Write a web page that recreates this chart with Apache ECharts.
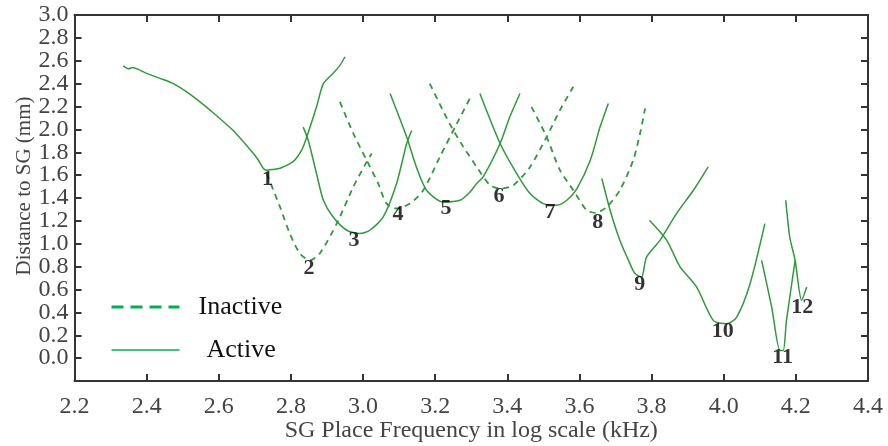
<!DOCTYPE html>
<html><head><meta charset="utf-8">
<script src="https://cdn.jsdelivr.net/npm/echarts@6/dist/echarts.min.js"></script>
<style>html,body{margin:0;padding:0;background:#fff}#c{width:888px;height:446px}</style>
</head><body><div id="c"></div>
<script>
// Tick labels
const xTicks = [2.2,2.4,2.6,2.8,3.0,3.2,3.4,3.6,3.8,4.0,4.2,4.4];
const yTicks = [0.0,0.2,0.4,0.6,0.8,1.0,1.2,1.4,1.6,1.8,2.0,2.2,2.4,2.6,2.8];
const yTopTick = [3.0];

// Active (solid) segments [frequency, distance]
const active1 = [[2.335,2.556],[2.35,2.53],[2.36,2.54],[2.40,2.49],[2.437,2.446],[2.474,2.40],[2.51,2.33],[2.548,2.24],[2.59,2.13],[2.64,1.99],[2.696,1.79],[2.71,1.73],[2.723,1.66],[2.733,1.643],[2.75,1.65],[2.77,1.66],[2.807,1.72],[2.83,1.82],[2.844,1.934],[2.871,2.197],[2.89,2.40],[2.917,2.49],[2.936,2.56],[2.95,2.635]];
const active2 = [[2.834,2.02],[2.848,1.905],[2.871,1.614],[2.89,1.38],[2.917,1.234],[2.955,1.118],[2.991,1.089],[3.019,1.118],[3.056,1.234],[3.093,1.527],[3.121,1.877],[3.135,1.99]];
const active3 = [[3.075,2.314],[3.121,1.934],[3.148,1.67],[3.176,1.468],[3.222,1.365],[3.269,1.38],[3.296,1.45],[3.315,1.527],[3.333,1.585],[3.38,1.877],[3.407,2.11],[3.435,2.314]];
const active4 = [[3.324,2.314],[3.38,1.877],[3.426,1.614],[3.463,1.439],[3.50,1.351],[3.537,1.337],[3.565,1.38],[3.593,1.483],[3.63,1.73],[3.657,2.02],[3.68,2.227]];
const active5 = [[3.662,1.57],[3.685,1.293],[3.712,1.03],[3.74,0.826],[3.754,0.739],[3.772,0.709],[3.786,0.884],[3.823,1.03],[3.869,1.264],[3.916,1.468],[3.957,1.672]];
const active6 = [[3.794,1.205],[3.842,1.03],[3.879,0.797],[3.925,0.621],[3.971,0.33],[4.008,0.301],[4.036,0.359],[4.073,0.651],[4.114,1.176]];
const active7 = [[4.105,0.855],[4.133,0.446],[4.156,0.067],[4.165,0.067],[4.174,0.33],[4.198,0.855]];
const active8 = [[4.172,1.38],[4.183,1.059],[4.198,0.855],[4.216,0.505],[4.23,0.621]];

// Inactive (dashed) segments
const inactive1 = [[2.733,1.614],[2.77,1.32],[2.797,1.089],[2.825,0.914],[2.853,0.855],[2.88,0.914],[2.927,1.176],[2.973,1.497],[3.01,1.716],[3.024,1.789]];
const inactive2 = [[2.936,2.24],[2.973,1.964],[3.01,1.73],[3.042,1.527],[3.065,1.351],[3.093,1.308],[3.13,1.351],[3.167,1.468],[3.213,1.76],[3.26,2.05],[3.296,2.27]];
const inactive3 = [[3.185,2.40],[3.24,2.05],[3.278,1.847],[3.315,1.672],[3.352,1.512],[3.38,1.483],[3.417,1.512],[3.463,1.672],[3.509,1.934],[3.546,2.168],[3.583,2.372]];
const inactive4 = [[3.467,2.197],[3.509,1.934],[3.546,1.643],[3.583,1.468],[3.62,1.293],[3.645,1.27],[3.676,1.322],[3.712,1.468],[3.749,1.73],[3.768,1.964],[3.782,2.183]];

// Notch numbers [frequency, distance, label]
const notchLabels = [[2.735,1.56,'1'],[2.85,0.785,'2'],[2.975,1.03,'3'],[3.097,1.256,'4'],[3.23,1.31,'5'],[3.377,1.415,'6'],[3.518,1.275,'7'],[3.651,1.187,'8'],[3.767,0.644,'9'],[3.997,0.233,'10'],[4.163,0.006,'11'],[4.218,0.444,'12']];

const GREEN = '#2f9a3a';
const FONT = '"Liberation Serif", "Times New Roman", serif';
const activeSegs = [active1,active2,active3,active4,active5,active6,active7,active8];
const inactiveSegs = [inactive1,inactive2,inactive3,inactive4];

const series = [];
inactiveSegs.forEach(d => series.push({type:'line', name:'Inactive', data:d, symbol:'none', smooth:0.25,
  lineStyle:{color:GREEN, width:1.8, type:[6,5]}, itemStyle:{color:GREEN}, z:2}));
activeSegs.forEach(d => series.push({type:'line', name:'Active', data:d, symbol:'none', smooth:0.25,
  lineStyle:{color:GREEN, width:1.5}, itemStyle:{color:GREEN}, z:3}));
series.push({type:'scatter', name:'labels', data:notchLabels, symbolSize:1, itemStyle:{color:'rgba(0,0,0,0)'},
  label:{show:true, position:'inside', formatter:p=>p.value[2], fontFamily:FONT, fontWeight:'bold', fontSize:22, color:'#000'}, z:5});

const axisLineStyle = {color:'#333', width:2};
const tickFmt = (arr) => v => {const t=arr.find(a=>Math.abs(a-v)<1e-6);return t===undefined?'':t.toFixed(1);};
const labelBase = {fontFamily:FONT, fontSize:24, color:'#444', hideOverlap:false};
const chart = echarts.init(document.getElementById('c'), null, {renderer:'canvas'});
chart.setOption({
  animation:false,
  backgroundColor:'#fff',
  grid:{left:74.5, right:20, top:15, bottom:65, containLabel:false, outerBoundsMode:'none'},
  legend:{
    orient:'vertical', left:105, top:289, itemGap:17, itemWidth:68, itemHeight:14,
    textStyle:{fontFamily:FONT, fontSize:26, color:'#111'},
    data:[
      {name:'Inactive', itemStyle:{opacity:0}, lineStyle:{color:'#00b050', width:3, type:[12,7]}, textStyle:{padding:[0,0,0,14]}},
      {name:'Active', itemStyle:{opacity:0}, lineStyle:{color:'#00b050', width:1.5}, textStyle:{padding:[0,0,0,22]}}
    ]
  },
  xAxis:[{
    type:'value', min:2.2, max:4.4, interval:0.2, position:'bottom',
    name:'SG Place Frequency in log scale (kHz)', nameLocation:'middle', nameGap:38, nameMoveOverlap:false,
    nameTextStyle:{fontFamily:FONT, fontSize:24, color:'#444'},
    axisLine:{show:true, onZero:false, lineStyle:axisLineStyle},
    axisTick:{show:true, inside:true, length:7, lineStyle:axisLineStyle},
    axisLabel:Object.assign({margin:14, showMinLabel:true, showMaxLabel:true, formatter:tickFmt(xTicks)}, labelBase),
    splitLine:{show:false}
  },{
    type:'value', min:2.2, max:4.4, interval:0.2, position:'top',
    axisLine:{show:true, onZero:false, lineStyle:axisLineStyle},
    axisTick:{show:true, inside:true, length:7, lineStyle:axisLineStyle},
    axisLabel:{show:false}, splitLine:{show:false}
  }],
  yAxis:[{
    type:'value', min:-0.2, max:3.0, interval:0.2, position:'left',
    name:'Distance to SG (mm)', nameLocation:'middle', nameGap:40, nameMoveOverlap:false,
    nameTextStyle:{fontFamily:FONT, fontSize:21, color:'#444', padding:[0,0,0,24]},
    axisLine:{show:true, onZero:false, lineStyle:axisLineStyle},
    axisTick:{show:true, inside:true, length:7, lineStyle:axisLineStyle},
    axisLabel:Object.assign({margin:6, showMinLabel:true, showMaxLabel:false, formatter:tickFmt(yTicks)}, labelBase),
    splitLine:{show:false}
  },{
    type:'value', min:-0.2, max:3.0, interval:0.2, position:'right',
    axisLine:{show:true, onZero:false, lineStyle:axisLineStyle},
    axisTick:{show:true, inside:true, length:7, lineStyle:axisLineStyle},
    axisLabel:{show:false}, splitLine:{show:false}
  },{
    type:'value', min:-0.2, max:3.0, interval:0.2, position:'left', offset:0,
    axisLine:{show:false, onZero:false}, axisTick:{show:false}, splitLine:{show:false},
    axisLabel:Object.assign({margin:6, showMinLabel:false, showMaxLabel:true, formatter:tickFmt(yTopTick)}, labelBase)
  }],
  series: series
});
</script></body></html>
